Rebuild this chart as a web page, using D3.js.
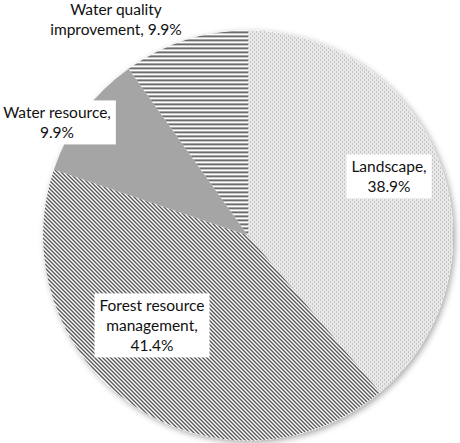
<!DOCTYPE html>
<html>
<head>
<meta charset="utf-8">
<script src="https://cdn.jsdelivr.net/npm/d3@7"></script>
<style>
  html, body { margin: 0; padding: 0; background: #ffffff; }
  svg { display: block; }
  text { font-family: Lato, "Open Sans", sans-serif; font-size: 15.5px; fill: #111; }
</style>
</head>
<body>
<svg id="chart" width="460" height="443"></svg>
<script>
// ---- data ----
const categories = ["Landscape", "Forest resource management", "Water resource", "Water quality improvement"];
const values = [38.9, 41.4, 9.9, 9.9];
const labelLines = [
  ["Landscape,", "38.9%"],
  ["Forest resource", "management,", "41.4%"],
  ["Water resource,", "9.9%"],
  ["Water quality", "improvement, 9.9%"]
];

// ---- layout (not data) ----
const W = 460, H = 443;
const cx = 248, cy = 235.5, R = 205;
const labelPos = [   // label block centers
  { x: 389, y: 177, box: true },
  { x: 152, y: 326, box: true },
  { x: 57,  y: 123, box: true },
  { x: 116, y: 19.5,  box: false }
];
const fills = ["url(#pDots)", "url(#pDiag)", "#a5a5a5", "url(#pHoriz)"];

const svg = d3.select("#chart");
const defs = svg.append("defs");

// dotted pattern
const pd = defs.append("pattern").attr("id", "pDots").attr("patternUnits", "userSpaceOnUse")
  .attr("width", 4).attr("height", 4);
pd.append("rect").attr("width", 4).attr("height", 4).attr("fill", "#fff");
[[0,0],[2,0],[1,1],[3,1],[0,2],[2,2],[1,3],[3,3]].forEach(([x, y]) =>
  pd.append("rect").attr("x", x).attr("y", y).attr("width", 1).attr("height", 1).attr("fill", "#d2d2d2"));
[[0,0],[2,2]].forEach(([x, y]) =>
  pd.append("rect").attr("x", x).attr("y", y).attr("width", 1).attr("height", 1).attr("fill", "#848484"));

// downward diagonal pattern
const pg = defs.append("pattern").attr("id", "pDiag").attr("patternUnits", "userSpaceOnUse")
  .attr("width", 4).attr("height", 4);
pg.append("rect").attr("width", 4).attr("height", 4).attr("fill", "#fff");
[0,1,2,3].forEach(i => {
  pg.append("rect").attr("x", i).attr("y", i).attr("width", 2).attr("height", 1).attr("fill", "#5a5a5a");
});
pg.append("rect").attr("x", 0).attr("y", 3).attr("width", 1).attr("height", 1).attr("fill", "#5a5a5a");

// horizontal lines pattern
const ph = defs.append("pattern").attr("id", "pHoriz").attr("patternUnits", "userSpaceOnUse")
  .attr("width", 4).attr("height", 4);
ph.append("rect").attr("width", 4).attr("height", 4).attr("fill", "#fff");
ph.append("rect").attr("x", 0).attr("y", 0).attr("width", 4).attr("height", 1.6).attr("fill", "#4a4a4a");

// shadow
const f = defs.append("filter").attr("id", "shadow").attr("x", "-10%").attr("y", "-10%")
  .attr("width", "120%").attr("height", "120%");
f.append("feDropShadow").attr("dx", 2).attr("dy", 2).attr("stdDeviation", 3)
  .attr("flood-color", "#000").attr("flood-opacity", 0.35);

const pie = d3.pie().sort(null).value(d => d)(values);
const arc = d3.arc().innerRadius(0).outerRadius(R);

const g = svg.append("g").attr("transform", `translate(${cx},${cy})`);
g.append("circle").attr("r", R).attr("fill", "#fff").attr("filter", "url(#shadow)");
g.selectAll("path.slice").data(pie).enter().append("path")
  .attr("class", "slice")
  .attr("d", arc)
  .attr("fill", (d, i) => fills[i]);

// labels
const lineH = 20;
labelLines.forEach((lines, i) => {
  const p = labelPos[i];
  const lg = svg.append("g").attr("class", "label");
  const t = lg.append("text").attr("text-anchor", "middle");
  const n = lines.length;
  lines.forEach((ln, k) => {
    t.append("tspan").attr("x", p.x)
      .attr("y", p.y + (k - (n - 1) / 2) * lineH)
      .attr("dy", "0.35em")
      .text(ln);
  });
  if (p.box) {
    const bb = t.node().getBBox();
    lg.insert("rect", "text")
      .attr("x", bb.x - 5).attr("y", bb.y - 3)
      .attr("width", bb.width + 10).attr("height", bb.height + 6)
      .attr("fill", "#fff");
  }
});
</script>
</body>
</html>
